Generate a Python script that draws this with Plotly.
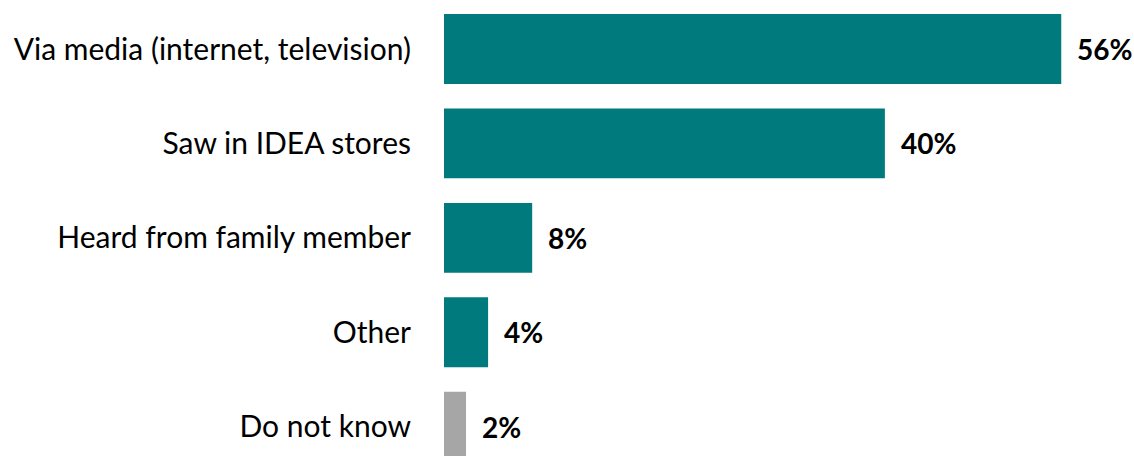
import plotly.graph_objects as go

# Survey responses: how people learned about the product
categories = [
    "Via media (internet, television)",
    "Saw in IDEA stores",
    "Heard from family member",
    "Other",
    "Do not know",
]
shares = [56, 40, 8, 4, 2]
labels = ["56%", "40%", "8%", "4%", "2%"]

TEAL = "#017A7E"
GREY = "#A6A6A6"
bar_colors = [TEAL, TEAL, TEAL, TEAL, GREY]
FONT = "Lato, Arial, sans-serif"

fig = go.Figure(
    go.Bar(
        x=shares,
        y=categories,
        orientation="h",
        marker=dict(color=bar_colors, line=dict(width=0)),
        hoverinfo="skip",
    )
)

# Value labels just to the right of each bar end
for cat, val, lab in zip(categories, shares, labels):
    fig.add_annotation(
        x=val,
        y=cat,
        text=f"<b>{lab}</b>",
        showarrow=False,
        xanchor="left",
        yanchor="middle",
        xshift=14,
        font=dict(family=FONT, size=28, color="#000000"),
    )

fig.update_layout(
    width=1134,
    height=456,
    margin=dict(l=444, r=0, t=0, b=0),
    paper_bgcolor="white",
    plot_bgcolor="white",
    bargap=0.26,
    showlegend=False,
    font=dict(family=FONT, size=30, color="#000000"),
)
fig.update_xaxes(
    range=[0, 62.6],
    visible=False,
    showgrid=False,
    zeroline=False,
)
fig.update_yaxes(
    type="category",
    range=[4.311, -0.519],
    showgrid=False,
    zeroline=False,
    showline=False,
    ticks="",
    ticklabelstandoff=32,
    tickfont=dict(family=FONT, size=30, color="#000000"),
)

fig.write_html("out.html")
